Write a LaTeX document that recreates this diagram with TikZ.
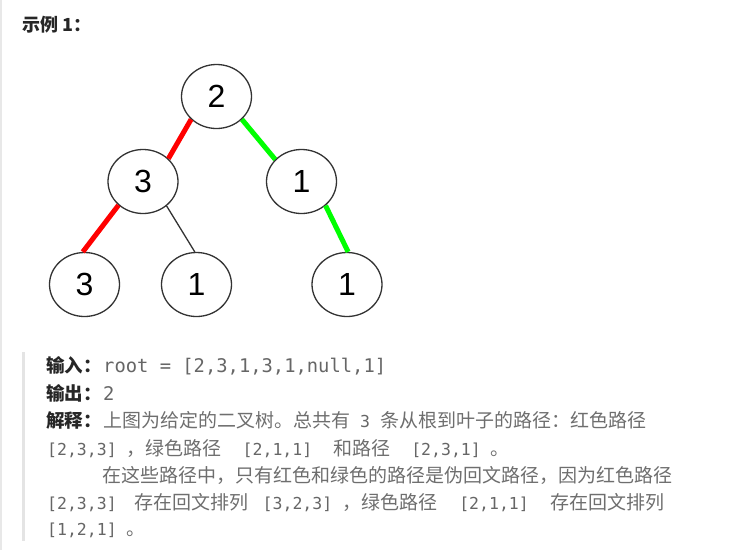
\documentclass[tikz,border=0pt]{standalone}
\usepackage{fontspec}
\usetikzlibrary{shapes.geometric}
\setmainfont{Noto Sans CJK SC}
\newfontfamily\digitfont{Liberation Sans}
\newfontfamily\codefont{DejaVu Sans Mono}
\definecolor{labelcol}{HTML}{262626}
\definecolor{textgray}{HTML}{6E6E6E}
\definecolor{codegray}{HTML}{666666}
\definecolor{linegray}{HTML}{333333}
\definecolor{pathred}{RGB}{255,0,0}
\definecolor{pathgreen}{RGB}{0,255,0}
\definecolor{stripgray}{HTML}{E8E8E8}
\definecolor{quotegray}{HTML}{E4E4E4}
\newcommand\cd[1]{{\codefont\fontsize{16.5}{18}\selectfont\color{codegray}#1}}
\newcommand\cdbig[1]{{\codefont\fontsize{18.8}{20}\selectfont\color{codegray}#1}}
\begin{document}
\begin{tikzpicture}[x=1pt,y=-1pt,
  tnode/.style={ellipse,draw=linegray,line width=1.3pt,minimum width=70pt,minimum height=64pt,inner sep=0pt,font=\digitfont\fontsize{32}{32}\selectfont},
  redpath/.style={draw=pathred,line width=5pt},
  greenpath/.style={draw=pathgreen,line width=5pt},
  plainpath/.style={draw=linegray,line width=1.3pt},
  lbl/.style={anchor=base west,inner sep=0pt,text=labelcol,font=\bfseries\fontsize{18.5}{20}\selectfont},
  txt/.style={anchor=base west,inner sep=0pt,text=textgray,font=\fontsize{19}{20}\selectfont}]
\useasboundingbox (0,0) rectangle (739,550);
\fill[stripgray] (0,0) rectangle (2,550);
\fill[quotegray] (22,352) rectangle (25,541);

\node[lbl,font=\bfseries\fontsize{18}{19}\selectfont] (title) at (22,31.5) {示例 1：};

\node[tnode] (root) at (216.5,96.5) {2};
\node[tnode] (l) at (143,181.5) {3};
\node[tnode] (r) at (301.5,181.5) {1};
\node[tnode] (ll) at (84.5,284.5) {3};
\node[tnode] (lr) at (196.5,284.5) {1};
\node[tnode] (rr) at (347,284.5) {1};

\draw[redpath] (root.222) -- (l.42);
\draw[greenpath] (root.318) -- (r.140);
\draw[redpath] (l.224) -- (ll.93);
\draw[plainpath] (l.314) -- (lr.93);
\draw[greenpath] (r.315) -- (rr.88);

\node[lbl] (inlbl) at (46,372) {输入：};
\node[txt] (inval) at (103,372) {\cdbig{root = [2,3,1,3,1,null,1]}};
\node[lbl] (outlbl) at (46,400) {输出：};
\node[txt] (outval) at (103,400) {\cdbig{2}};
\node[lbl] (explbl) at (46,427) {解释：};
\node[txt] (exp1) at (103,427) {上图为给定的二叉树。总共有\hspace{10pt}\cd{3}\hspace{10pt}条从根到叶子的路径：红色路径};
\node[txt] (exp2) at (47,455) {\cd{[2,3,3]}\hspace{10pt}，绿色路径\hspace{21pt}\cd{[2,1,1]}\hspace{21pt}和路径\hspace{21pt}\cd{[2,3,1]}\hspace{10pt}。};
\node[txt] (exp3) at (102,482) {在这些路径中，只有红色和绿色的路径是伪回文路径，因为红色路径};
\node[txt] (exp4) at (47,509) {\cd{[2,3,3]}\hspace{18pt}存在回文排列\hspace{14pt}\cd{[3,2,3]}\hspace{10pt}，绿色路径\hspace{22pt}\cd{[2,1,1]}\hspace{22pt}存在回文排列};
\node[txt] (exp5) at (47,535) {\cd{[1,2,1]}\hspace{10pt}。};
\end{tikzpicture}
\end{document}
